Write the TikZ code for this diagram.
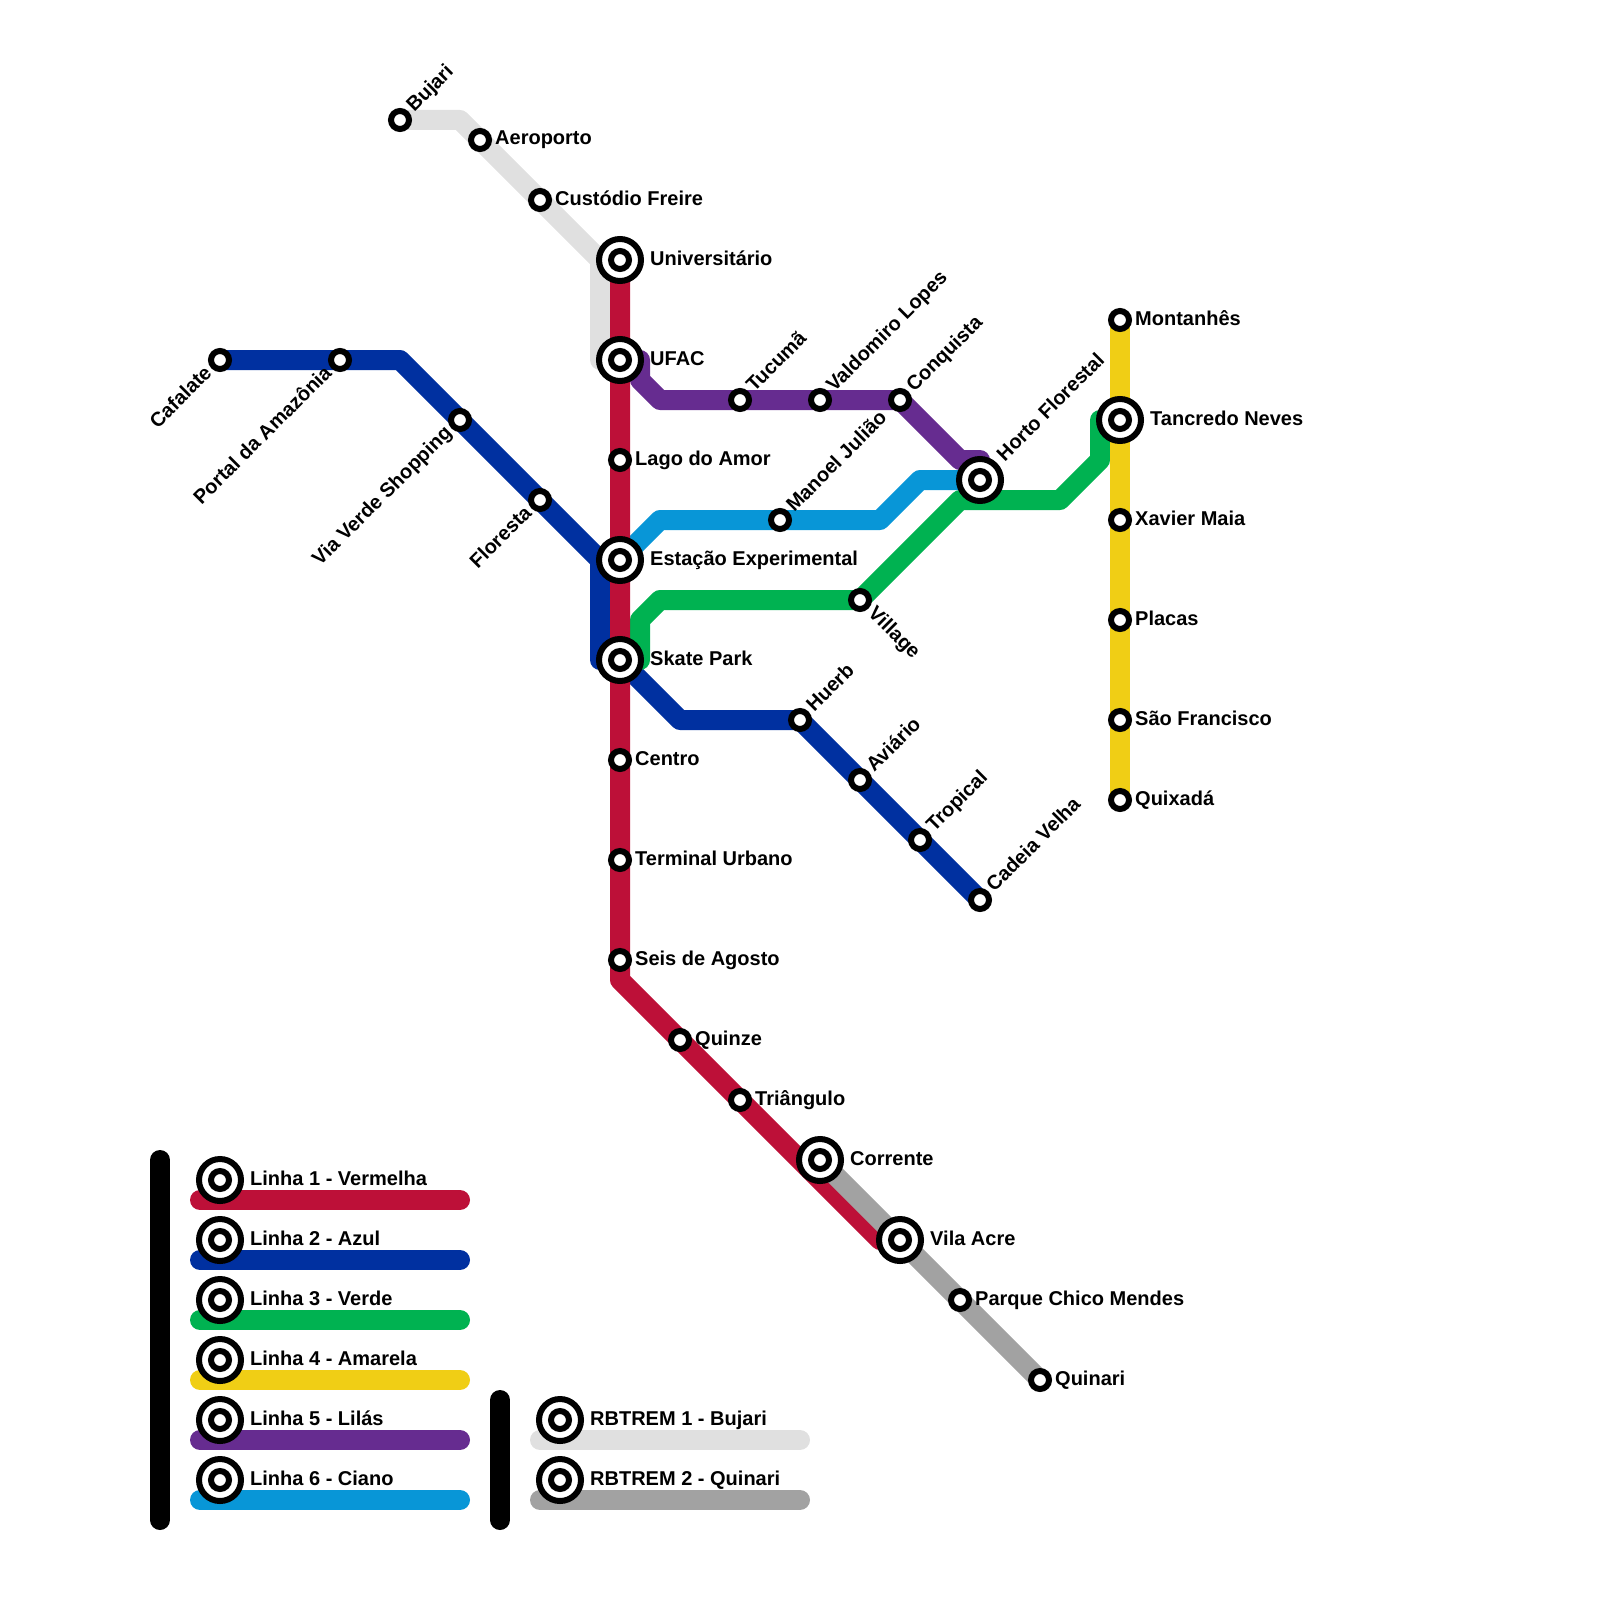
\documentclass[tikz,border=0pt]{standalone}
\usepackage{fontspec}
\setmainfont{Liberation Sans}
\usepackage{xcolor}
\usetikzlibrary{positioning, backgrounds}
\definecolor{linered}{HTML}{BD1038}
\definecolor{lineblue}{HTML}{0030A0}
\definecolor{linegreen}{HTML}{00B251}
\definecolor{lineyellow}{HTML}{F0CE15}
\definecolor{linepurple}{HTML}{662C90}
\definecolor{linecyan}{HTML}{0896D7}
\definecolor{linelight}{HTML}{E0E0E0}
\definecolor{linegray}{HTML}{A2A2A2}

\begin{document}
\begin{tikzpicture}[
    x=1pt, y=-1pt, on grid,
    station/.style={circle, draw=black, fill=white, line width=6pt, minimum size=18pt, inner sep=0pt},
    hub/.style={circle, draw=black, fill=white, line width=6pt, minimum size=42pt, inner sep=0pt,
        path picture={\draw[line width=6pt] (path picture bounding box.center) circle (9pt);}},
    route/.style={line width=20pt, line join=round, line cap=round},
    bar/.style={line width=20pt, line cap=round, color=black},
    stname/.style={font=\bfseries\fontsize{20}{24}\selectfont, inner sep=0pt, text height=14pt, text depth=4pt},
    rname/.style={stname, anchor=west, xshift=15pt},
    rnamehub/.style={stname, anchor=west, xshift=30pt},
    nename/.style={stname, anchor=west, rotate=45, xshift=15pt},
    nenamehub/.style={stname, anchor=west, rotate=45, xshift=30pt},
    swname/.style={stname, anchor=east, rotate=45, xshift=-15pt},
    sename/.style={stname, anchor=west, rotate=-45, xshift=15pt}
]

\useasboundingbox (0,0) rectangle (1600,1600);

\node[hub] (univ) at (620,260) {};
\node[hub, below=100pt of univ] (ufac) {};
\node[station, below=100pt of ufac] (lago) {};
\node[hub, below=100pt of lago] (estacao) {};
\node[hub, below=100pt of estacao] (skate) {};
\node[station, below=100pt of skate] (centro) {};
\node[station, below=100pt of centro] (terminal) {};
\node[station, below=100pt of terminal] (seis) {};
\coordinate[below=20pt of seis] (redb);
\node[station, below right=60pt and 60pt of redb, anchor=center] (quinze) {};
\node[station, below right=60pt and 60pt of quinze] (triangulo) {};
\node[hub, below right=60pt and 80pt of triangulo] (corrente) {};
\node[hub, below right=80pt and 80pt of corrente] (vila) {};
\coordinate[left=20pt of vila] (redc);
\node[station, below right=60pt and 60pt of vila] (parque) {};
\node[station, below right=80pt and 80pt of parque] (quinari) {};

\coordinate[left=20pt of univ] (lightc);
\coordinate[left=20pt of ufac] (lightd);
\node[station, above left=60pt and 60pt of lightc, anchor=center] (custodio) {};
\node[station, above left=60pt and 60pt of custodio] (aeroporto) {};
\coordinate[above left=20pt and 20pt of aeroporto] (lightb);
\node[station, left=60pt of lightb, anchor=center] (bujari) {};

\coordinate[left=20pt of estacao] (bluea);
\coordinate[left=20pt of skate] (blueb);
\node[station, above left=60pt and 60pt of bluea, anchor=center] (floresta) {};
\node[station, above left=80pt and 80pt of floresta] (viaverde) {};
\coordinate[above left=60pt and 60pt of viaverde] (bluec);
\node[station, left=60pt of bluec, anchor=center] (portal) {};
\node[station, left=120pt of portal] (cafalate) {};
\coordinate[below right=60pt and 60pt of skate] (blued);
\node[station, right=120pt of blued, anchor=center] (huerb) {};
\node[station, below right=60pt and 60pt of huerb] (aviario) {};
\node[station, below right=60pt and 60pt of aviario] (tropical) {};
\node[station, below right=60pt and 60pt of tropical] (cadeia) {};

\node[station] (montanhes) at (1120,320) {};
\node[hub, below=100pt of montanhes] (tancredo) {};
\node[station, below=100pt of tancredo] (xavier) {};
\node[station, below=100pt of xavier] (placas) {};
\node[station, below=100pt of placas] (saofrancisco) {};
\node[station, below=80pt of saofrancisco] (quixada) {};

\coordinate[right=20pt of skate] (greena);
\coordinate[above=40pt of greena] (greenb);
\coordinate[above right=20pt and 20pt of greenb] (greenc);
\node[station, right=200pt of greenc, anchor=center] (village) {};
\coordinate[above right=100pt and 100pt of village] (greend);
\coordinate[right=100pt of greend] (greene);
\coordinate[above right=40pt and 40pt of greene] (greenf);
\coordinate[left=20pt of tancredo] (greeng);

\coordinate[above right=40pt and 40pt of estacao] (cyana);
\node[station, right=120pt of cyana, anchor=center] (manoel) {};
\coordinate[right=100pt of manoel] (cyanb);
\coordinate[above right=40pt and 40pt of cyanb] (cyanc);
\node[hub, right=60pt of cyanc, anchor=center] (horto) {};

\coordinate[right=20pt of ufac] (purplea);
\coordinate[below=20pt of purplea] (purpleb);
\coordinate[below right=20pt and 20pt of purpleb] (purplec);
\node[station, right=80pt of purplec, anchor=center] (tucuma) {};
\node[station, right=80pt of tucuma] (valdomiro) {};
\node[station, right=80pt of valdomiro] (conquista) {};
\coordinate[above=20pt of horto] (purplee);
\coordinate[left=20pt of purplee] (purpled);

\node[hub] (legenda) at (220,1180) {};
\node[hub, below=60pt of legenda] (legendb) {};
\node[hub, below=60pt of legendb] (legendc) {};
\node[hub, below=60pt of legendc] (legendd) {};
\node[hub, below=60pt of legendd] (legende) {};
\node[hub, below=60pt of legende] (legendf) {};
\node[hub] (legendg) at (560,1420) {};
\node[hub, below=60pt of legendg] (legendh) {};

\coordinate[below left=20pt and 20pt of legenda] (leftsa);
\coordinate[right=260pt of leftsa] (rightsa);
\coordinate[below left=20pt and 20pt of legendb] (leftsb);
\coordinate[right=260pt of leftsb] (rightsb);
\coordinate[below left=20pt and 20pt of legendc] (leftsc);
\coordinate[right=260pt of leftsc] (rightsc);
\coordinate[below left=20pt and 20pt of legendd] (leftsd);
\coordinate[right=260pt of leftsd] (rightsd);
\coordinate[below left=20pt and 20pt of legende] (leftse);
\coordinate[right=260pt of leftse] (rightse);
\coordinate[below left=20pt and 20pt of legendf] (leftsf);
\coordinate[right=260pt of leftsf] (rightsf);
\coordinate[below left=20pt and 20pt of legendg] (leftsg);
\coordinate[right=260pt of leftsg] (rightsg);
\coordinate[below left=20pt and 20pt of legendh] (leftsh);
\coordinate[right=260pt of leftsh] (rightsh);

\coordinate[above left=20pt and 60pt of legenda] (bartopa);
\coordinate[below left=40pt and 60pt of legendf] (barbota);
\coordinate[above left=20pt and 60pt of legendg] (bartopb);
\coordinate[below left=40pt and 60pt of legendh] (barbotb);

\begin{scope}[on background layer]
\draw[route, lineblue] (cafalate.center) -- (portal.center) -- (bluec) -- (viaverde.center) -- (floresta.center) -- (bluea) -- (blueb) -- (skate.center) -- (blued) -- (huerb.center) -- (aviario.center) -- (tropical.center) -- (cadeia.center);
\draw[route, linegreen] (skate.center) -- (greena) -- (greenb) -- (greenc) -- (village.center) -- (greend) -- (greene) -- (greenf) -- (greeng) -- (tancredo.center);
\draw[route, linecyan] (estacao.center) -- (cyana) -- (manoel.center) -- (cyanb) -- (cyanc) -- (horto.center);
\draw[route, linepurple] (ufac.center) -- (purplea) -- (purpleb) -- (purplec) -- (tucuma.center) -- (valdomiro.center) -- (conquista.center) -- (purpled) -- (purplee) -- (horto.center);
\draw[route, linelight] (bujari.center) -- (lightb) -- (aeroporto.center) -- (custodio.center) -- (lightc) -- (lightd) -- (ufac.center);
\draw[route, linered] (univ.center) -- (ufac.center) -- (lago.center) -- (estacao.center) -- (skate.center) -- (centro.center) -- (terminal.center) -- (seis.center) -- (redb) -- (quinze.center) -- (triangulo.center) -- (redc) -- (vila.center);
\draw[route, linegray] (corrente.center) -- (vila.center) -- (parque.center) -- (quinari.center);
\draw[route, lineyellow] (montanhes.center) -- (tancredo.center) -- (xavier.center) -- (placas.center) -- (saofrancisco.center) -- (quixada.center);

\draw[bar] (bartopa) -- (barbota);
\draw[bar] (bartopb) -- (barbotb);
\draw[route, linered] (leftsa) -- (rightsa);
\draw[route, lineblue] (leftsb) -- (rightsb);
\draw[route, linegreen] (leftsc) -- (rightsc);
\draw[route, lineyellow] (leftsd) -- (rightsd);
\draw[route, linepurple] (leftse) -- (rightse);
\draw[route, linecyan] (leftsf) -- (rightsf);
\draw[route, linelight] (leftsg) -- (rightsg);
\draw[route, linegray] (leftsh) -- (rightsh);
\end{scope}

\node[nename] (nbujari) at (bujari) {Bujari};
\node[rname] (naeroporto) at (aeroporto) {Aeroporto};
\node[rname] (ncustodio) at (custodio) {Custódio Freire};
\node[rnamehub] (nuniv) at (univ) {Universitário};
\node[rnamehub] (nufac) at (ufac) {UFAC};
\node[rname] (nlago) at (lago) {Lago do Amor};
\node[rnamehub] (nestacao) at (estacao) {Estação Experimental};
\node[rnamehub] (nskate) at (skate) {Skate Park};
\node[rname] (ncentro) at (centro) {Centro};
\node[rname] (nterminal) at (terminal) {Terminal Urbano};
\node[rname] (nseis) at (seis) {Seis de Agosto};
\node[rname] (nquinze) at (quinze) {Quinze};
\node[rname] (ntriangulo) at (triangulo) {Triângulo};
\node[rnamehub] (ncorrente) at (corrente) {Corrente};
\node[rnamehub] (nvila) at (vila) {Vila Acre};
\node[rname] (nparque) at (parque) {Parque Chico Mendes};
\node[rname] (nquinari) at (quinari) {Quinari};

\node[swname] (ncafalate) at (cafalate) {Cafalate};
\node[swname] (nportal) at (portal) {Portal da Amazônia};
\node[swname] (nviaverde) at (viaverde) {Via Verde Shopping};
\node[swname] (nfloresta) at (floresta) {Floresta};
\node[nename] (nhuerb) at (huerb) {Huerb};
\node[nename] (naviario) at (aviario) {Aviário};
\node[nename] (ntropical) at (tropical) {Tropical};
\node[nename] (ncadeia) at (cadeia) {Cadeia Velha};

\node[sename] (nvillage) at (village) {Village};
\node[nename] (nmanoel) at (manoel) {Manoel Julião};
\node[nename] (ntucuma) at (tucuma) {Tucumã};
\node[nename] (nvaldomiro) at (valdomiro) {Valdomiro Lopes};
\node[nename] (nconquista) at (conquista) {Conquista};
\node[nenamehub] (nhorto) at (horto) {Horto Florestal};

\node[rname] (nmontanhes) at (montanhes) {Montanhês};
\node[rnamehub] (ntancredo) at (tancredo) {Tancredo Neves};
\node[rname] (nxavier) at (xavier) {Xavier Maia};
\node[rname] (nplacas) at (placas) {Placas};
\node[rname] (nsaofrancisco) at (saofrancisco) {São Francisco};
\node[rname] (nquixada) at (quixada) {Quixadá};

\node[rnamehub] (nlegenda) at (legenda) {Linha 1 - Vermelha};
\node[rnamehub] (nlegendb) at (legendb) {Linha 2 - Azul};
\node[rnamehub] (nlegendc) at (legendc) {Linha 3 - Verde};
\node[rnamehub] (nlegendd) at (legendd) {Linha 4 - Amarela};
\node[rnamehub] (nlegende) at (legende) {Linha 5 - Lilás};
\node[rnamehub] (nlegendf) at (legendf) {Linha 6 - Ciano};
\node[rnamehub] (nlegendg) at (legendg) {RBTREM 1 - Bujari};
\node[rnamehub] (nlegendh) at (legendh) {RBTREM 2 - Quinari};

\end{tikzpicture}
\end{document}
